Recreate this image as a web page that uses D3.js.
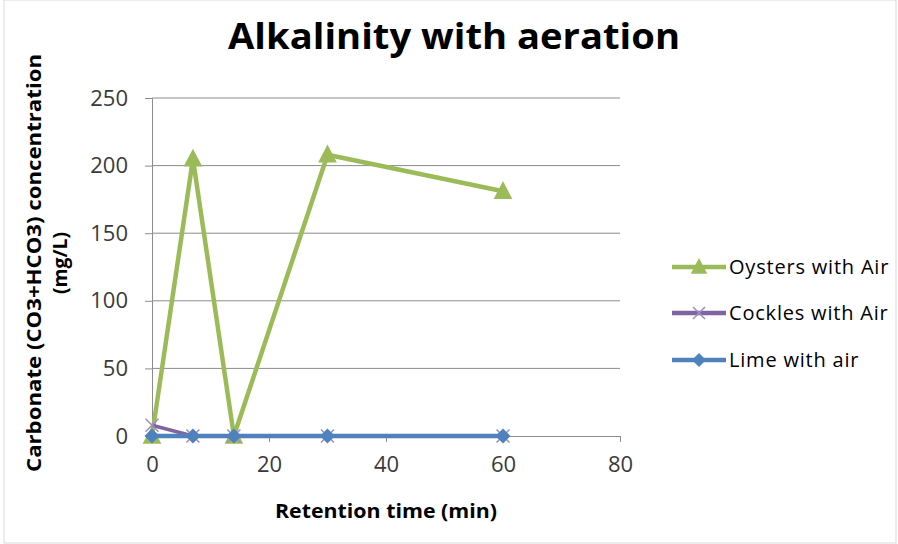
<!DOCTYPE html>
<html>
<head>
<meta charset="utf-8">
<script src="https://cdn.jsdelivr.net/npm/d3@7"></script>
<style>
  body { margin: 0; background: #fff; }
  text { font-family: "Open Sans", "Noto Sans", sans-serif; }
</style>
</head>
<body>
<div id="chart"></div>
<script>
// chart constants
const WIDTH = 898;
const HEIGHT = 544;
const MARGIN = { left: 152, right: 278, top: 98, bottom: 108 };

// data
const times = [0, 7, 14, 30, 60];
const oysters = [0, 205, 0, 208, 181];
const cockles = [8, 0, 0, 0, 0];
const lime = [0, 0, 0, 0, 0];
const xTicks = [0, 20, 40, 60, 80];
const yTicks = [0, 50, 100, 150, 200, 250];

const series = [
  { name: "Oysters with Air", values: oysters, color: "#9bbb59", marker: "triangle" },
  { name: "Cockles with Air", values: cockles, color: "#8064a2", marker: "cross" },
  { name: "Lime with air", values: lime, color: "#4f81bd", marker: "diamond" },
];

const svg = d3.select("#chart").append("svg")
  .attr("width", WIDTH)
  .attr("height", HEIGHT);

// chart border
svg.append("rect")
  .attr("x", 4).attr("y", 0)
  .attr("width", WIDTH - 6).attr("height", HEIGHT - 1)
  .attr("fill", "none").attr("stroke", "#d9d9d9");

const x = d3.scaleLinear().domain([0, 80]).range([MARGIN.left, WIDTH - MARGIN.right]);
const y = d3.scaleLinear().domain([0, 250]).range([HEIGHT - MARGIN.bottom, MARGIN.top]);

// gridlines
svg.append("g").selectAll("line")
  .data(yTicks.filter(d => d > 0))
  .join("line")
  .attr("x1", x(0)).attr("x2", x(80))
  .attr("y1", d => y(d)).attr("y2", d => y(d))
  .attr("stroke", "#8c8c8c").attr("stroke-width", 1);

// axes
const xAxis = d3.axisBottom(x).tickValues(xTicks).tickSize(6).tickPadding(17);
const yAxis = d3.axisLeft(y).tickValues(yTicks).tickSize(7).tickPadding(17);

const gx = svg.append("g")
  .attr("transform", `translate(0,${y(0)})`)
  .call(xAxis);
const gy = svg.append("g")
  .attr("transform", `translate(${x(0)},0)`)
  .call(yAxis);

[gx, gy].forEach(g => {
  g.selectAll("path, line").attr("stroke", "#8c8c8c").attr("stroke-width", 1);
  g.selectAll("text").attr("font-size", 22).attr("fill", "#3a3a3a")
    .style("font-family", "'Open Sans', sans-serif");
});
gx.selectAll("text").attr("dy", "0.6em");

// lines
const line = d3.line().x((d, i) => x(times[i])).y(d => y(d));

function markerPath(type, s) {
  if (type === "triangle") return `M0,${-s * 0.6}L${s * 0.55},${s * 0.45}L${-s * 0.55},${s * 0.45}Z`;
  if (type === "diamond") return `M0,${-s / 2}L${s / 2},0L0,${s / 2}L${-s / 2},0Z`;
  return `M${-s / 2},${-s / 2}L${s / 2},${s / 2}M${s / 2},${-s / 2}L${-s / 2},${s / 2}`;
}

series.forEach(s => {
  svg.append("path")
    .datum(s.values)
    .attr("d", line)
    .attr("fill", "none")
    .attr("stroke", s.color)
    .attr("stroke-width", s.marker === "cross" ? 3.5 : 4.5)
    .attr("stroke-linejoin", "round");

  svg.append("g").selectAll("path")
    .data(s.values)
    .join("path")
    .attr("transform", (d, i) => `translate(${x(times[i])},${y(d)})`)
    .attr("d", markerPath(s.marker, s.marker === "cross" ? 13 : (s.marker === "triangle" ? 17 : 15)))
    .attr("fill", s.marker === "cross" ? "none" : s.color)
    .attr("stroke", s.marker === "cross" ? "#a08cc0" : "none")
    .attr("stroke-width", 1.5);
});

// title
svg.append("text")
  .attr("x", 454).attr("y", 49)
  .attr("text-anchor", "middle")
  .attr("font-size", 36).attr("font-weight", "bold")
  .attr("fill", "#000")
  .attr("textLength", 452).attr("lengthAdjust", "spacingAndGlyphs")
  .text("Alkalinity with aeration");

// axis titles
svg.append("text")
  .attr("x", 386).attr("y", 518)
  .attr("text-anchor", "middle")
  .attr("font-size", 20).attr("font-weight", "bold")
  .attr("textLength", 222).attr("lengthAdjust", "spacingAndGlyphs")
  .text("Retention time (min)");

const yTitle = svg.append("g").attr("transform", "translate(41,263) rotate(-90)");
yTitle.append("text")
  .attr("text-anchor", "middle")
  .attr("font-size", 20).attr("font-weight", "bold")
  .attr("textLength", 418).attr("lengthAdjust", "spacingAndGlyphs")
  .text("Carbonate (CO3+HCO3) concentration");
yTitle.append("text")
  .attr("y", 26)
  .attr("text-anchor", "middle")
  .attr("font-size", 20).attr("font-weight", "bold")
  .attr("textLength", 62).attr("lengthAdjust", "spacingAndGlyphs")
  .text("(mg/L)");

// legend
const legendY = [267, 313, 360];
const legend = svg.append("g");
series.forEach((s, i) => {
  const g = legend.append("g").attr("transform", `translate(672,${legendY[i]})`);
  g.append("line")
    .attr("x1", 0).attr("x2", 54)
    .attr("stroke", s.color).attr("stroke-width", 4.5);
  g.append("path")
    .attr("transform", "translate(27,0)")
    .attr("d", markerPath(s.marker, s.marker === "cross" ? 12 : (s.marker === "triangle" ? 15 : 14)))
    .attr("fill", s.marker === "cross" ? "none" : s.color)
    .attr("stroke", s.marker === "cross" ? "#a08cc0" : "none")
    .attr("stroke-width", 1.5);
  g.append("text")
    .attr("x", 57).attr("y", 7)
    .attr("font-size", 20).attr("fill", "#000")
    .attr("letter-spacing", 0.8)
    .text(s.name);
});
</script>
</body>
</html>
